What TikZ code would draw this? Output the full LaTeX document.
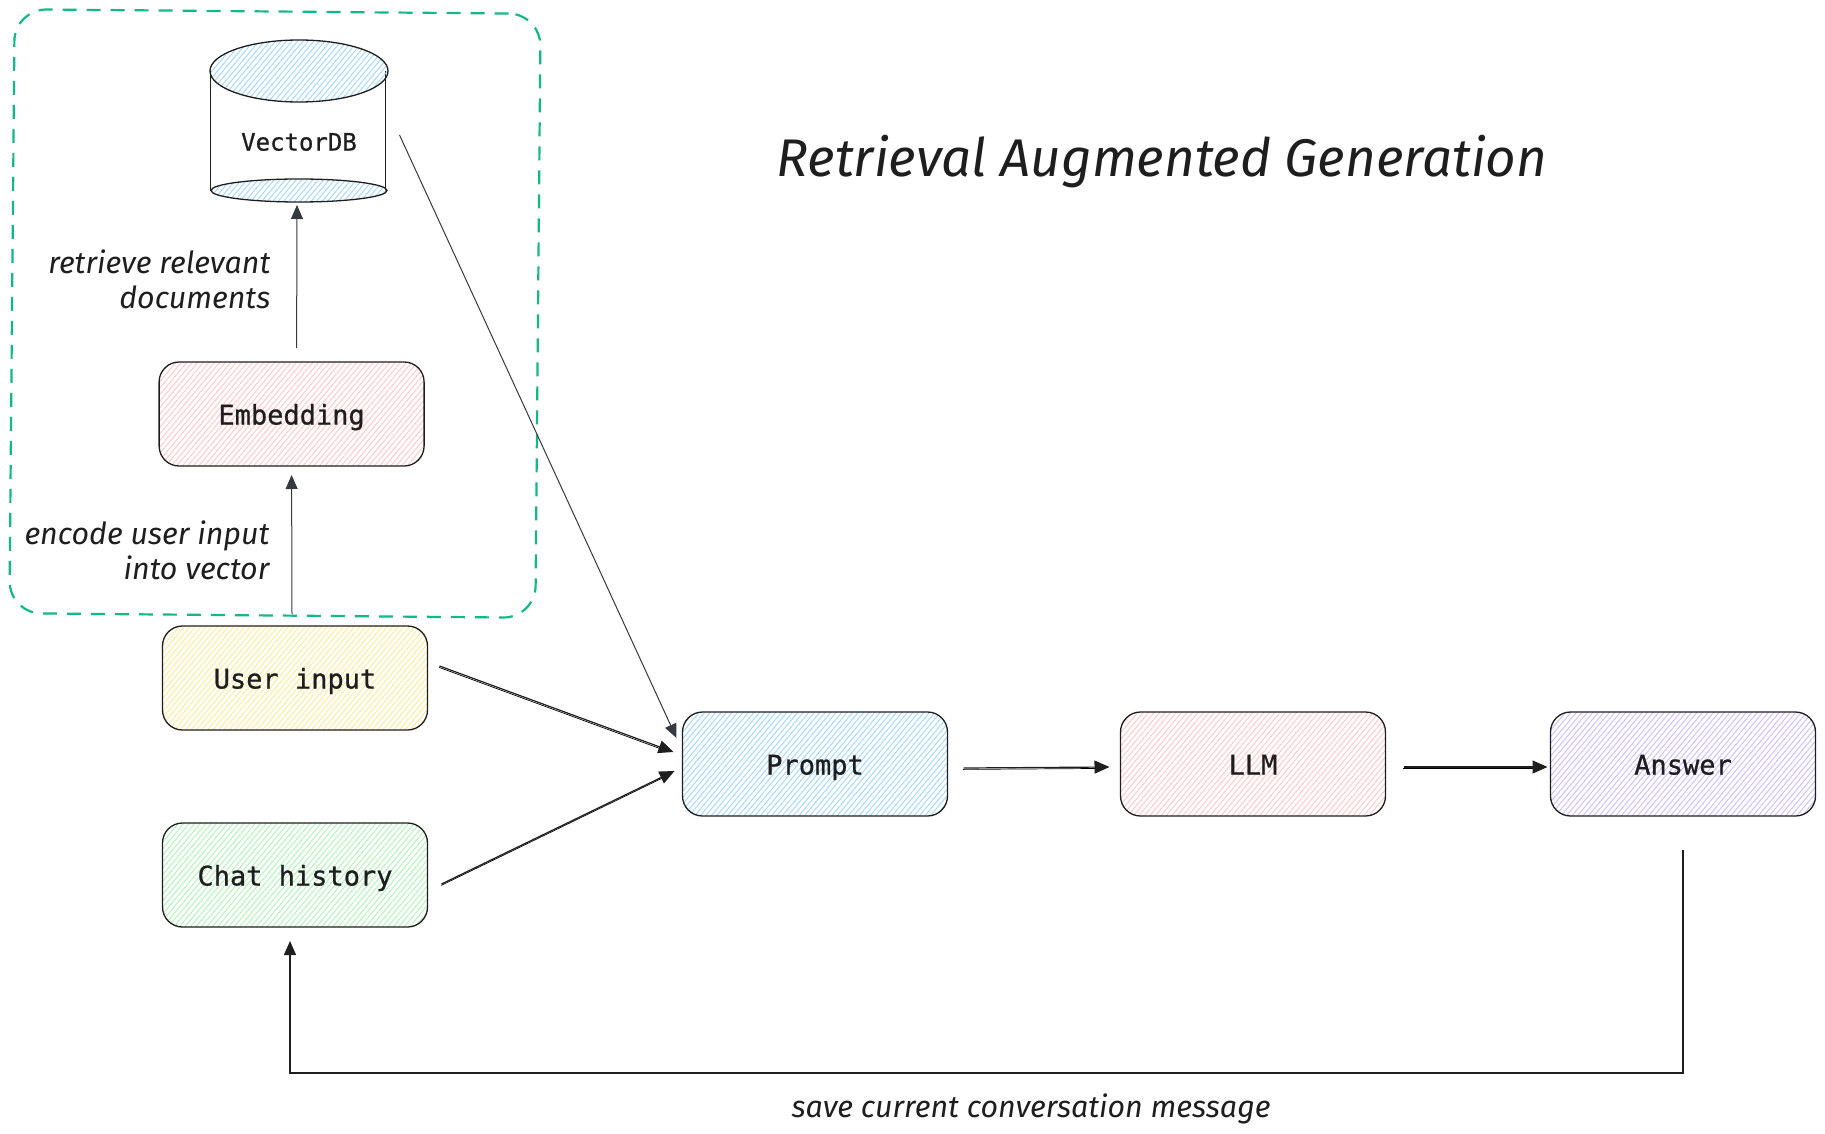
\documentclass[tikz,border=0pt]{standalone}
\usepackage{fontspec}
\setmainfont{Fira Sans}
\setmonofont{DejaVu Sans Mono}[FakeBold=0.8]
\usepackage{xcolor}
\usetikzlibrary{arrows.meta,positioning,patterns.meta}

\definecolor{inkdark}{HTML}{1E1E1E}
\definecolor{inkgrey}{HTML}{343A40}
\definecolor{framegreen}{HTML}{12B886}
\definecolor{hatchred}{HTML}{FFC9C9}
\definecolor{hatchblue}{HTML}{A5D8FF}
\definecolor{hatchyellow}{HTML}{FFEC99}
\definecolor{hatchgreen}{HTML}{B2F2BB}
\definecolor{hatchpurple}{HTML}{D0BFFF}

\begin{document}
\begin{tikzpicture}[
    x=0.5pt, y=-0.5pt,
    hatch/.style={pattern={Lines[angle=50,distance=2.1pt,line width=0.5pt]}, pattern color=#1},
    box/.style={draw=inkdark, rounded corners=10pt, line width=0.65pt, outer sep=0pt, minimum width=132.5pt, minimum height=52pt, align=center, text=inkdark, text height=13.5pt, text depth=3pt, font=\ttfamily\fontsize{13.5}{16}\selectfont, hatch=#1},
    arr/.style={-{Triangle[length=7pt,width=6pt]}, inkgrey, line width=0.5pt},
    barr/.style={-{Triangle[length=7.5pt,width=6.5pt]}, inkdark, line width=0.6pt, preaction={draw, -, line width=0.35pt, transform canvas={shift={(-0.2pt,-0.7pt)}}, shorten >=4pt}},
    note/.style={inner sep=0pt, align=right, text=inkdark, font=\itshape\fontsize{15.2}{17.5}\selectfont},
]
\useasboundingbox (0,0) rectangle (1825,1134);

% Nodes
\node (prompt) [box=hatchblue] at (815,764) {Prompt};
\node (llm) [box=hatchred, right=86.5pt of prompt] {LLM};
\node (answer) [box=hatchpurple, right=82.5pt of llm] {Answer};
\node (chat) [box=hatchgreen] at (295,875) {Chat history};
\node (user) [box=hatchyellow, above=46.5pt of chat] {User input};
\node (embedding) [box=hatchred, above=80pt of user, xshift=-1.7pt] {Embedding};

% Vector store
\node (db) [minimum width=88.5pt, minimum height=81pt, inner sep=0pt, outer sep=0pt] at (299,121) {};
\node (dblabel) [text=inkdark, font=\ttfamily\fontsize{12}{14}\selectfont, below=43pt of db.north] {VectorDB};
\draw[inkdark, line width=0.65pt] (db.north west) ++(0,31) -- ++(0,120);
\draw[inkdark, line width=0.65pt] (db.north east) ++(-2,31) -- ++(0,120);
\draw[inkdark, line width=0.65pt, hatch=hatchblue] (299,71) ellipse [x radius=89, y radius=31];
\draw[inkdark, line width=0.65pt, hatch=hatchblue] (299,190.5) ellipse [x radius=88, y radius=11.5];

% Dashed frame
\node (frame) [draw=framegreen, dashed, dash pattern=on 7pt off 5pt, line width=1.1pt, rounded corners=16pt, rotate=-0.5, minimum width=263pt, minimum height=302pt, outer sep=0pt] at (275,313.5) {};

% Arrows
\draw[arr] ([xshift=2.5pt,yshift=7pt]embedding.north) -- node[note, left=13pt, pos=0.48] {retrieve relevant\\documents} ([xshift=-1pt,yshift=-1.5pt]db.south);
\draw[arr] ([yshift=6pt,xshift=-1.5pt]user.north) -- node[note, left=11pt, pos=0.46] {encode user input\\into vector} ([yshift=-4.5pt]embedding.south);
\draw[arr] ([xshift=6pt,yshift=-7pt]db.east) -- ([xshift=-3pt,yshift=13pt]prompt.west);
\draw[barr] ([xshift=6pt,yshift=6pt]user.east) -- ([xshift=-4.5pt,yshift=6pt]prompt.west);
\draw[barr] ([xshift=7pt,yshift=-4.5pt]chat.east) -- ([xshift=-4pt,yshift=-3.5pt]prompt.west);
\draw[barr] ([xshift=8pt,yshift=-2pt]prompt.east) -- ([xshift=-5.5pt,yshift=-1.5pt]llm.west);
\draw[barr] ([xshift=9pt,yshift=-1.5pt]llm.east) -- ([xshift=-1.5pt,yshift=-1.5pt]answer.west);
\draw[arr, inkdark, line width=0.65pt] ([yshift=-17pt]answer.south) -- ++(0,223)
    -- node[note, below=10pt, pos=0.468, align=center] {save current conversation message} ++(-1393,0)
    -- ([xshift=-2.5pt,yshift=-7pt]chat.south);

% Title
\node (title) [text=inkdark, font=\itshape\fontsize{26.5}{30}\selectfont] at (1162,162) {Retrieval Augmented Generation};
\end{tikzpicture}
\end{document}
